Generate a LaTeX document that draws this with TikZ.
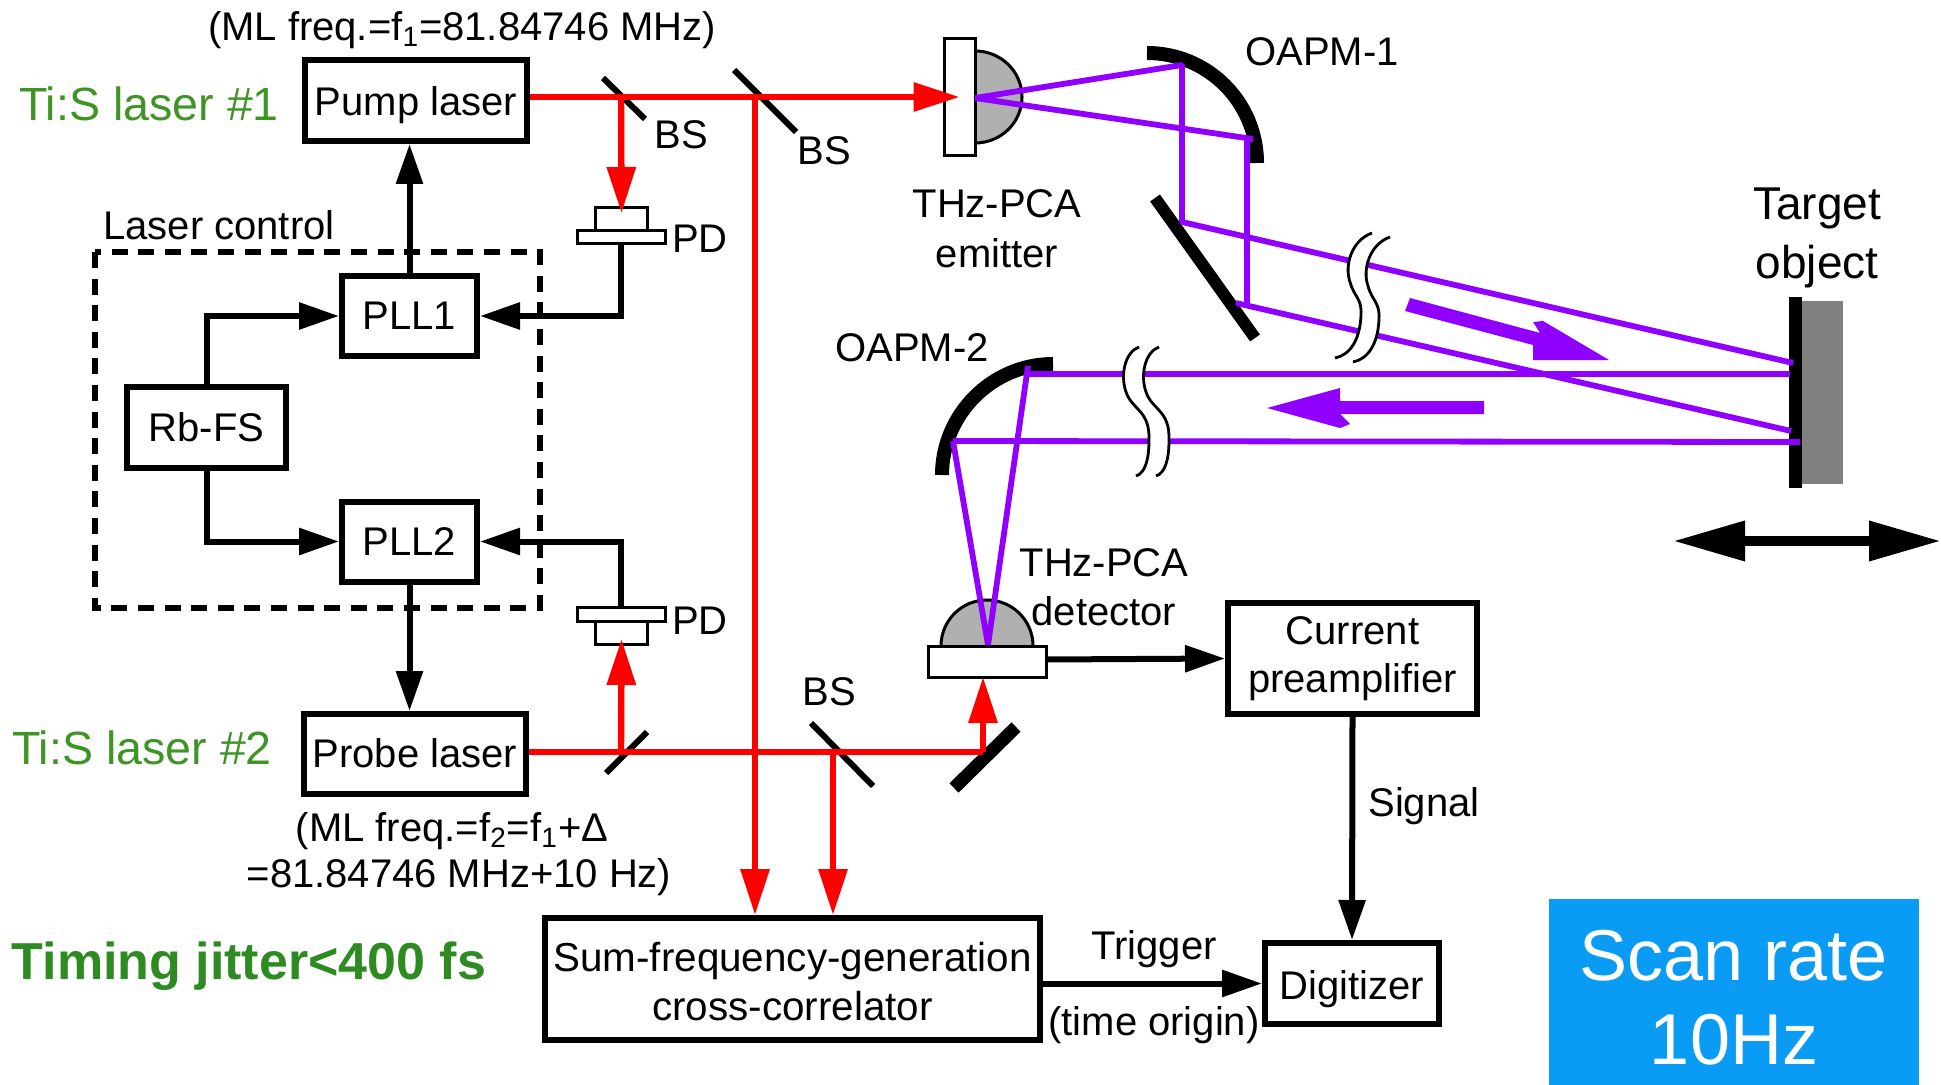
\documentclass[tikz,border=0pt]{standalone}
\usepackage{fontspec}
\setmainfont{Liberation Sans}
\usetikzlibrary{arrows.meta,calc}
\definecolor{thz}{HTML}{8F00FF}
\definecolor{labgreen}{HTML}{3F9426}
\definecolor{jitter}{HTML}{2E8B22}
\definecolor{scanblue}{HTML}{0A9BF5}
\definecolor{dome}{HTML}{B0B0B0}
\definecolor{targetgrey}{HTML}{808080}
\tikzset{
  x=0.5pt,y=-0.5pt,
  every node/.style={inner sep=0pt,outer sep=0pt},
  lab/.style={font=\fontsize{20}{24.5}\selectfont,align=center,text=black},
  boxwh/.style n args={2}{draw=black,line width=3pt,fill=white,outer sep=1.5pt,
     minimum width=#1*0.5pt-3pt,minimum height=#2*0.5pt-3pt,align=center,
     font=\fontsize{20}{24}\selectfont},
  thinbox/.style={draw=black,line width=1.5pt,fill=white},
  sig/.style={draw=black,line width=3pt,-{Triangle[length=20pt,width=13pt]}},
  redbeam/.style={draw=red,line width=3.2pt},
  redarrow/.style={redbeam,-{Triangle[length=23pt,width=14pt]}},
  bs/.style={draw=black,line width=3pt},
  mirror/.style={draw=black,line width=6.5pt},
  beam/.style={draw=thz,line width=2.9pt,line join=bevel},
  breakline/.style={draw=black,line width=1.4pt},
  breakgap/.style={draw=white,line width=9pt},
}
\begin{document}
\begin{tikzpicture}
\useasboundingbox (0,0) rectangle (1941,1085);
% --- boxes
\node[boxwh={228}{87},text height=15pt,text depth=0pt] (pump) at (416,100.5) {Pump laser};
\node[boxwh={141}{86}] (pll1) at (409.5,316) {PLL1};
\node[boxwh={165}{87}] (rb) at (206.5,427.5) {Rb-FS};
\node[boxwh={141}{86}] (pll2) at (409.5,541.5) {PLL2};
\node[boxwh={228}{86},text height=13pt,text depth=0pt] (probe) at (415,754) {Probe laser};
\node[boxwh={501}{128}] (sfg) at (792.5,979) {};
\node[boxwh={180}{87},text height=15.5pt,text depth=0pt] (dig) at (1352,983.5) {Digitizer};
\node[boxwh={255}{117}] (pre) at (1352.5,658.5) {Current\\preamplifier};
\node[fill=scanblue,minimum width=185pt,minimum height=93pt] (scan) at (1734,992) {};
\draw[line width=2.8pt,dash pattern=on 8pt off 5.3pt] (95,252) rectangle (540,608);
% --- named optical points
\coordinate (b1a) at (603,78); \coordinate (b1b) at (645,119);
\coordinate (b2a) at (734,70); \coordinate (b2b) at (796,132);
\coordinate (b3a) at (606,773); \coordinate (b3b) at (647,732);
\coordinate (b4a) at (811,723); \coordinate (b4b) at (873,786);
\coordinate (m1a) at (1016,727); \coordinate (m1b) at (954,788);
\coordinate (m2a) at (1155,198); \coordinate (m2b) at (1255,338);
% --- photodiodes
\node[thinbox,minimum width=26pt,minimum height=11.5pt] (pd1t) at (621.5,219.5) {};
\node[thinbox,minimum width=44pt,minimum height=6.5pt] (pd1b) at (621,237.5) {};
\node[thinbox,minimum width=44pt,minimum height=7pt] (pd2b) at (621,614) {};
\node[thinbox,minimum width=26pt,minimum height=11.5pt] (pd2t) at (621.5,632.5) {};
% --- THz emitter and detector
\draw[thinbox,fill=dome] (975,51) arc[start angle=90,end angle=-90,x radius=23.5pt,y radius=23pt];
\node[thinbox,minimum width=15.5pt,minimum height=58.5pt] (em) at (959.5,97.5) {};
\draw[thinbox,fill=dome] (941,646) arc[start angle=180,end angle=0,radius=23pt];
\node[thinbox,minimum width=59pt,minimum height=15.5pt] (det) at (987,661.5) {};
% --- mirrors
\draw[mirror,line width=7pt] (1147,53) .. controls (1207.8,53) and (1257,102.2) .. (1257,163);
\draw[mirror,line width=7pt] (1053,364) .. controls (992.2,364) and (942,414.2) .. (942,475);
\draw[bs] (b1a) -- (b1b);
\draw[bs] (b2a) -- (b2b);
\draw[bs] (b3a) -- (b3b);
\draw[bs] (b4a) -- (b4b);
\draw[mirror] (m1a) -- (m1b);
\draw[mirror,line width=6pt] (m2a) -- (m2b);
% --- target
\node[fill=targetgrey,minimum width=20.5pt,minimum height=91.5pt] (tg) at (1822.5,392.5) {};
\node[fill=black,minimum width=6.5pt,minimum height=95.5pt] (tb) at (1795.5,392.5) {};
% --- THz beams
\coordinate (p0) at (975,98);
\coordinate (oa) at (1182,65); \coordinate (ob) at (1253,139);
\coordinate (ma) at (1182,222); \coordinate (mb) at (1236,303);
\coordinate (ta) at (1793,363); \coordinate (tbb) at (1791,431);
\coordinate (o2a) at (1028,374); \coordinate (o2b) at (953,441);
\coordinate (d0) at (988,645);
\draw[beam] (p0) -- (oa) -- (ma) -- (ta);
\draw[beam] (p0) -- (ob) -- (1247,139) -- (1247,304);
\draw[beam] (mb) -- (tbb);
\draw[beam] (1790,374) -- (o2a);
\draw[beam] (1800,442) -- (o2b);
\draw[beam] (1028,366) -- (d0) -- (o2b);
% --- fat arrows
\fill[thz] (1410,298) -- (1540,333) -- (1533,322) -- (1543,321) -- (1609,360) -- (1533,360) -- (1533,345) -- (1405,311) -- cycle;
\fill[thz] (1484,401) -- (1340,401) -- (1340,388) -- (1267,408) -- (1340,428) -- (1350,424) -- (1340,414) -- (1484,414) -- cycle;
% --- break marks
\newcommand{\upperS}{(1372,233) .. controls (1352,240) and (1344,265) .. (1350,282) .. controls (1354,297) and (1362,298) .. (1361,315) .. controls (1360,340) and (1350,355) .. (1335,358)}
\newcommand{\lowerS}{(1139,347) .. controls (1125,352) and (1120,375) .. (1126,392) .. controls (1132,410) and (1150,410) .. (1149,440) .. controls (1149,460) and (1145,473) .. (1136,476)}
\draw[breakgap,shift={(9,2)}] \upperS;
\draw[breakline] \upperS;
\draw[breakline,shift={(18,4)}] \upperS;
\draw[breakgap,shift={(10,0)}] \lowerS;
\draw[breakline] \lowerS;
\draw[breakline,shift={(20,0)}] \lowerS;
% --- red beams
\coordinate (r1) at (621,97);
\coordinate (r2) at (755,97);
\coordinate (r3) at (621,752);
\coordinate (r5) at (833,752);
\coordinate (r6) at (983,752);
\draw[redarrow] (pump.east |- r1) -- (em.center |- r1) ;
\draw[redarrow] (r1) -- ([yshift=-2.5pt]pd1t.north);
\draw[redarrow] (r2) -- (r2 |- sfg.north);
\draw[redbeam] (probe.east |- r3) -- (r6);
\draw[redarrow] (r3) -- ([yshift=2.5pt]pd2t.south);
\draw[redarrow] (r5) -- (r5 |- sfg.north);
\draw[redarrow] (r6) -- (r6 |- det.south);
% --- signal connectors
\draw[sig] (pll1.north) -- (pll1.north |- pump.south);
\draw[sig] (pd1b.south) |- (pll1.east);
\draw[sig] (rb.north) |- (pll1.west);
\draw[sig] (rb.south) |- (pll2.west);
\draw[sig] (pd2b.north) |- (pll2.east);
\draw[sig] (pll2.south) -- (pll2.south |- probe.north);
\draw[sig] (det.east |- pre.west) ++(0,1) -- (pre.west);
\draw[sig] (pre.south) -- (dig.north);
\draw[sig] (sfg.east |- dig.west) -- (dig.west);
\draw[draw=black,line width=5pt,{Triangle[length=36pt,width=19pt]}-{Triangle[length=36pt,width=19pt]}] (1673,541) -- (1941,541);
% --- labels
\node[lab] (l1) at (462,30) {(ML freq.=f\textsubscript{1}=81.84746 MHz)};
\node[lab,text=labgreen,font=\fontsize{23.3}{28}\selectfont] (l2) at (149,104) {Ti:S laser \#1};
\node[lab,text=labgreen,font=\fontsize{23.3}{28}\selectfont] (l3) at (142,748) {Ti:S laser \#2};
\node[lab] (l4) at (219,225) {Laser control};
\node[lab] (l5) at (681,135) {BS};
\node[lab] (l6) at (824,151) {BS};
\node[lab] (l7) at (829,692) {BS};
\node[lab] (l8) at (700,239) {PD};
\node[lab] (l9) at (700,621) {PD};
\node[lab,font=\fontsize{20}{25}\selectfont] (l10) at (997,229) {THz-PCA\\emitter};
\node[lab] (l11) at (1322,52) {OAPM-1};
\node[lab] (l12) at (912,348) {OAPM-2};
\node[lab,font=\fontsize{20}{24.5}\selectfont] (l13) at (1104,587) {THz-PCA\\detector};
\node[lab,font=\fontsize{23}{29.5}\selectfont] (l14) at (1817,238) {Target\\object};
\node[lab] (l15) at (1424,806) {Signal};
\node[lab] (l16) at (1154,949) {Trigger};
\node[lab] (l17) at (1154,1025) {(time origin)};
\node[lab,font=\fontsize{20.2}{24.5}\selectfont,yshift=-1.25pt] (l18) at (sfg) {Sum-frequency-generation\\cross-correlator};
\node[lab] (l19) at (452,831) {(ML freq.=f\textsubscript{2}=f\textsubscript{1}+Δ};
\node[lab] (l20) at (459,877) {=81.84746 MHz+10 Hz)};
\node[lab,text=jitter,font=\bfseries\fontsize{26}{30}\selectfont] (l21) at (249,966) {Timing jitter<400 fs};
\node[lab,text=white,font=\fontsize{36}{42}\selectfont,yshift=-3pt] (l22) at (scan) {Scan rate\\10Hz};
\end{tikzpicture}
\end{document}
